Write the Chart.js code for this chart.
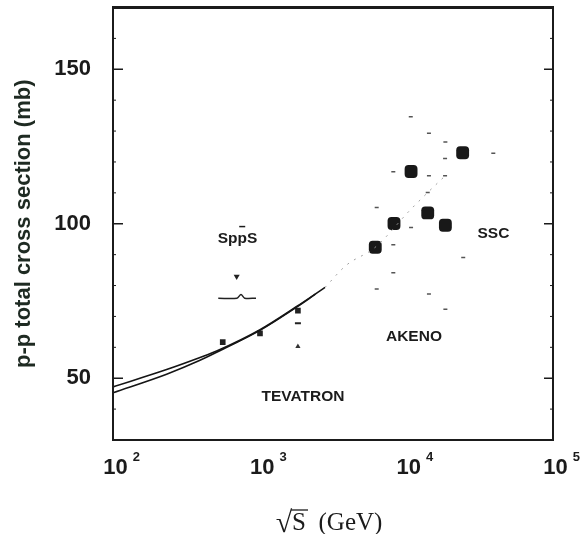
<!DOCTYPE html>
<html>
<head>
<meta charset="utf-8">
<script src="https://cdn.jsdelivr.net/npm/chart.js@4.4.0/dist/chart.umd.min.js"></script>
<style>
  html, body { margin: 0; padding: 0; background: #fff; }
  #wrap { width: 582px; height: 534px; }
</style>
</head>
<body>
<div id="wrap"><canvas id="c" width="582" height="534"></canvas></div>
<script>
// values: sqrt(s) in GeV, total cross section in mb
const fitUpperE = [100, 232, 392, 509, 1005, 1786, 2790];
const fitUpperS = [47.2, 52.8, 56.7, 58.8, 65.7, 73.2, 79.4];
const fitLowerE = [100, 232, 392, 509, 1005, 1786, 2400];
const fitLowerS = [45.3, 51.3, 55.8, 58.4, 65.5, 73.0, 77.2];
const extE = [2790, 3880, 6140, 10600, 13990, 18370];
const extS = [79.4, 86.5, 92.4, 104.4, 110.1, 115.5];

const cosmicE = [6140, 8240, 10770, 13990, 18460, 24210];
const cosmicS = [92.4, 100.1, 116.9, 103.5, 99.5, 123.0];
const colliderE = [560, 1005, 1823];
const colliderS = [61.7, 64.5, 71.9];

// little error-bar ends around the cosmic ray points
const errE = [10720, 14260, 18460, 39170, 8150, 18370, 18370, 14260, 13990, 6280, 10770, 8150, 24430, 8150, 6280, 14260, 18460];
const errS = [134.6, 129.3, 126.5, 122.8, 116.8, 121.1, 115.5, 115.5, 110.1, 105.3, 98.8, 93.2, 89.1, 84.1, 78.9, 77.3, 72.3];

// Tevatron marks below the point
const tevDashE = [1823];
const tevDashS = [67.8];
const tevTriE = [1823];
const tevTriS = [60.3];

// SppS arrow and bracket
const sppsArrowE = [697];
const sppsArrowS = [82.9];
const bracketE = [522, 700, 746, 790, 944];
const bracketS = [75.9, 75.9, 77.1, 75.9, 75.9];

// machine names
const names = ['TEVATRON', 'AKENO', 'SSC', 'SppS'];
const nameE = [1972, 11270, 39260, 706];
const nameS = [43.9, 63.5, 96.8, 95.2];

const yTicks = [50, 100, 150];
const yMinor = [40, 60, 70, 80, 90, 110, 120, 130, 140, 160];
const xTicks = [100, 1000, 10000, 100000];
const xExp = ['2', '3', '4', '5'];

const pts = (xs, ys) => xs.map((v, i) => ({ x: v, y: ys[i] }));
const ink = '#1b1b1b';
const sans = '"Liberation Sans", Arial, sans-serif';
const serif = '"Liberation Serif", "Times New Roman", serif';

const frame = {
  id: 'frame',
  afterDatasetsDraw(chart) {
    const { ctx, chartArea: a, scales: { x, y } } = chart;
    ctx.save();
    ctx.strokeStyle = ink;
    ctx.fillStyle = ink;

    // box
    ctx.lineWidth = 2;
    ctx.strokeRect(a.left, a.top, a.right - a.left, a.bottom - a.top);
    ctx.lineWidth = 3;
    ctx.beginPath();
    ctx.moveTo(a.left - 1, a.top);
    ctx.lineTo(a.right + 1, a.top);
    ctx.stroke();

    // inward ticks
    ctx.lineWidth = 1.5;
    yTicks.forEach(v => {
      const py = y.getPixelForValue(v);
      ctx.beginPath();
      ctx.moveTo(a.left, py); ctx.lineTo(a.left + 10, py);
      ctx.moveTo(a.right, py); ctx.lineTo(a.right - 9, py);
      ctx.stroke();
    });
    ctx.lineWidth = 1;
    yMinor.forEach(v => {
      const py = y.getPixelForValue(v);
      ctx.beginPath();
      ctx.moveTo(a.left, py); ctx.lineTo(a.left + 3, py);
      ctx.moveTo(a.right, py); ctx.lineTo(a.right - 3, py);
      ctx.stroke();
    });

    // x tick labels 10^n
    ctx.textBaseline = 'alphabetic';
    xTicks.forEach((v, i) => {
      const px = x.getPixelForValue(v) + 2.5;
      ctx.font = 'bold 22px ' + sans;
      ctx.textAlign = 'center';
      ctx.fillText('10', px, 474);
      const w = ctx.measureText('10').width;
      ctx.font = 'bold 13px ' + sans;
      ctx.textAlign = 'left';
      ctx.fillText(xExp[i], px + w / 2 + 5, 461);
    });

    // x title: sqrt(S) (GeV)
    ctx.textAlign = 'left';
    const cx = (a.left + a.right) / 2;
    ctx.font = '30px ' + serif;
    const rw = ctx.measureText('\u221A').width;
    ctx.font = '25px ' + serif;
    const sw = ctx.measureText('S').width;
    const gw = ctx.measureText('  (GeV)').width;
    let tx = cx - (rw + sw + gw) / 2 - 4;
    ctx.font = '30px ' + serif;
    ctx.fillText('\u221A', tx, 532);
    ctx.font = '25px ' + serif;
    ctx.fillText('S', tx + rw, 530);
    ctx.fillText('  (GeV)', tx + rw + sw, 530);
    ctx.lineWidth = 1.3;
    ctx.beginPath();
    ctx.moveTo(tx + rw - 1, 510);
    ctx.lineTo(tx + rw + sw + 2, 510);
    ctx.stroke();

    // machine names
    ctx.font = 'bold 15.5px ' + sans;
    ctx.textAlign = 'center';
    ctx.textBaseline = 'middle';
    names.forEach((t, i) => {
      const px = x.getPixelForValue(nameE[i]);
      const py = y.getPixelForValue(nameS[i]);
      ctx.fillText(t, px, py);
      if (t === 'SppS') {
        const full = ctx.measureText(t).width;
        const p0 = ctx.measureText('Sp').width;
        const p1 = ctx.measureText('Spp').width;
        const mid = px - full / 2 + (p0 + p1) / 2;
        ctx.lineWidth = 1.5;
        ctx.beginPath();
        ctx.moveTo(mid - 3, py - 12);
        ctx.lineTo(mid + 3, py - 12);
        ctx.stroke();
      }
    });
    ctx.restore();
  }
};

new Chart(document.getElementById('c'), {
  type: 'scatter',
  data: {
    datasets: [
      { data: pts(fitUpperE, fitUpperS), showLine: true, borderColor: '#151515', borderWidth: 1.6, pointRadius: 0, cubicInterpolationMode: 'monotone' },
      { data: pts(fitLowerE, fitLowerS), showLine: true, borderColor: '#151515', borderWidth: 1.6, pointRadius: 0, cubicInterpolationMode: 'monotone' },
      { data: pts(extE, extS), showLine: true, borderColor: '#a0a0a0', borderWidth: 1, borderDash: [2, 6], pointRadius: 0, cubicInterpolationMode: 'monotone' },
      { data: pts(bracketE, bracketS), showLine: true, borderColor: '#222', borderWidth: 1.5, pointRadius: 0, tension: 0.3 },
      { data: pts(errE, errS), pointStyle: 'line', pointRadius: 2, borderColor: '#555', borderWidth: 1.5 },
      { data: pts(cosmicE, cosmicS), pointStyle: 'rectRounded', pointRadius: 7.5, backgroundColor: '#181818', borderColor: '#181818', borderWidth: 0 },
      { data: pts(colliderE, colliderS), pointStyle: 'rect', pointRadius: 4, backgroundColor: '#222', borderColor: '#222', borderWidth: 0 },
      { data: pts(tevDashE, tevDashS), pointStyle: 'line', pointRadius: 3, borderColor: '#222', borderWidth: 2 },
      { data: pts(tevTriE, tevTriS), pointStyle: 'triangle', pointRadius: 3, backgroundColor: '#333', borderColor: '#333', borderWidth: 0 },
      { data: pts(sppsArrowE, sppsArrowS), pointStyle: 'triangle', rotation: 180, pointRadius: 3.5, backgroundColor: '#222', borderColor: '#222', borderWidth: 0 }
    ]
  },
  options: {
    responsive: false,
    animation: false,
    events: [],
    layout: { padding: { left: 0, top: 6, right: 29, bottom: 0 } },
    plugins: { legend: { display: false }, tooltip: { enabled: false } },
    scales: {
      x: {
        type: 'logarithmic',
        min: 100,
        max: 100000,
        grid: { display: false, drawTicks: false },
        border: { display: false },
        ticks: { display: false },
        afterFit: s => { s.height = 94; s.paddingLeft = 0; s.paddingRight = 0; }
      },
      y: {
        min: 30,
        max: 170,
        grid: { display: false, drawTicks: false },
        border: { display: false },
        afterBuildTicks: s => { s.ticks = yTicks.map(v => ({ value: v })); },
        afterFit: s => { s.width = 113; s.paddingTop = 0; s.paddingBottom = 0; },
        ticks: { padding: 22, color: ink, font: { family: sans, weight: 'bold', size: 22 } },
        title: {
          display: true,
          text: 'p-p total cross section (mb)',
          color: '#1e2a22',
          padding: { top: 11, bottom: 0 },
          font: { family: sans, weight: 'bold', size: 22 }
        }
      }
    }
  },
  plugins: [frame]
});
</script>
</body>
</html>
